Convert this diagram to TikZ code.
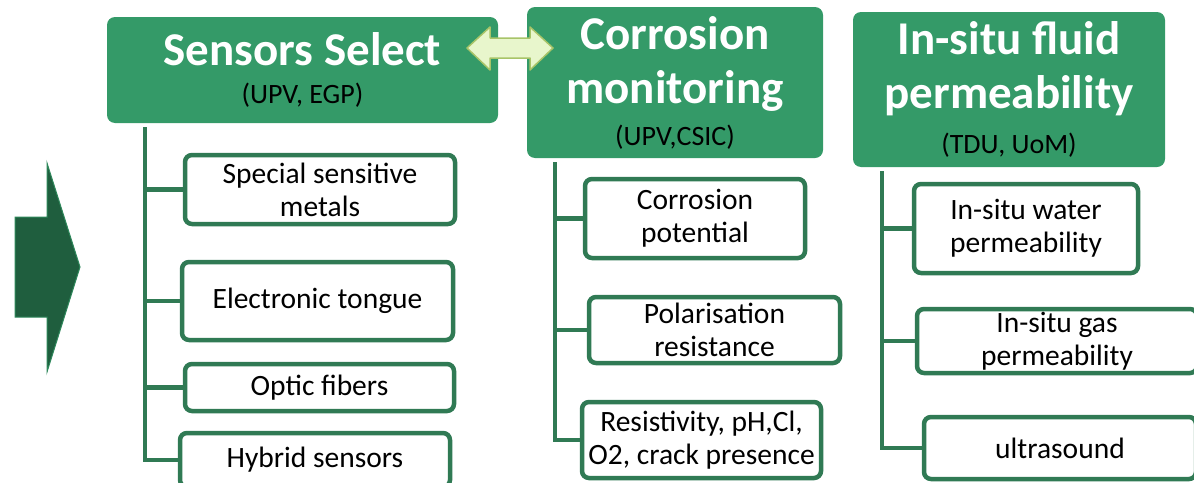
\documentclass[tikz,border=0pt]{standalone}
\usepackage{fontspec}
\setmainfont{Carlito}
\usetikzlibrary{backgrounds}
\definecolor{hdgreen}{RGB}{52,154,104}
\definecolor{rimgreen}{RGB}{48,122,84}
\definecolor{darkgreen}{RGB}{31,94,62}
\definecolor{paleleaf}{RGB}{232,246,204}
\definecolor{leafrim}{RGB}{168,196,104}
\tikzset{
  header/.style={rectangle,rounded corners=8pt,fill=hdgreen,align=center,
    inner sep=0pt,text=black,font=\fontsize{47}{54}\selectfont},
  leaf/.style={rectangle,rounded corners=7pt,draw=rimgreen,line width=4.5pt,
    fill=white,align=center,inner sep=0pt,
    font=\fontsize{29.5}{33}\selectfont},
  link/.style={draw=rimgreen,line width=4.5pt}
}
\newcommand{\hdtitle}[1]{{\bfseries\color{white}#1}}
\newcommand{\hdsub}[1]{{\fontsize{28}{30}\selectfont #1}}

\begin{document}
\begin{tikzpicture}[x=1pt,y=-1pt]
  \useasboundingbox (0,0) rectangle (1194,482);
  \clip (0,0) rectangle (1194,482);
  \node[header,minimum width=391pt,minimum height=106pt] (sel) at (302.5,70)
    {\hdtitle{Sensors Select}\\[-16pt]\hdsub{(UPV, EGP)}};
  \node[header,minimum width=296pt,minimum height=151pt] (cor) at (675,82.5)
    {\hdtitle{Corrosion}\\\hdtitle{monitoring}\\[-12pt]\hdsub{(UPV,CSIC)}};
  \node[header,minimum width=312pt,minimum height=155pt] (ins) at (1009,89.5)
    {\hdtitle{In-situ fluid}\\\hdtitle{permeability}\\[-9pt]\hdsub{(TDU, UoM)}};

  \node[leaf,minimum width=270pt,minimum height=69pt] (sel1) at (320,189.5)
    {Special sensitive\\metals};
  \node[leaf,minimum width=271pt,minimum height=78pt] (sel2) at (317.5,301)
    {Electronic tongue};
  \node[leaf,minimum width=269pt,minimum height=47pt] (sel3) at (319.5,387.5)
    {Optic fibers};
  \node[leaf,minimum width=270pt,minimum height=54pt] (sel4) at (315,460)
    {Hybrid sensors};

  \node[leaf,minimum width=220pt,minimum height=79pt] (cor1) at (695,218.5)
    {Corrosion\\potential};
  \node[leaf,minimum width=251pt,minimum height=66pt] (cor2) at (714.5,330)
    {Polarisation\\resistance};
  \node[leaf,minimum width=239pt,minimum height=76pt] (cor3) at (701.5,440)
    {Resistivity, pH,Cl,\\O2, crack presence};

  \node[leaf,minimum width=224pt,minimum height=89pt] (ins1) at (1026,228.5)
    {In-situ water\\permeability};
  \node[leaf,minimum width=280pt,minimum height=64pt] (ins2) at (1057,341)
    {In-situ gas\\permeability};
  \node[leaf,minimum width=272pt,minimum height=62pt] (ins3) at (1060,448)
    {ultrasound};

  \coordinate (selroot) at ([xshift=38pt,yshift=-4pt]sel.south west);
  \coordinate (corroot) at ([xshift=28pt,yshift=-4pt]cor.south west);
  \coordinate (insroot) at ([xshift=29pt,yshift=-4pt]ins.south west);
  \begin{scope}[on background layer]
    \foreach \k in {1,...,4}
      \draw[link] (selroot) |- (sel\k.west);
    \foreach \k in {1,...,3}
      \draw[link] (corroot) |- (cor\k.west);
    \foreach \k in {1,...,3}
      \draw[link] (insroot) |- (ins\k.west);
  \end{scope}

  \draw[fill=paleleaf,draw=leafrim,line width=1.5pt,line join=round]
    (467,48) -- (490,27) -- (490,38) -- (530,38) -- (530,27) -- (553,48)
    -- (530,70) -- (530,58) -- (490,58) -- (490,70) -- cycle;
  \draw[fill=darkgreen,draw=hdgreen!70!darkgreen,line width=1pt]
    (15,217) -- (47,217) -- (47,163) -- (80,267) -- (47,372) -- (47,317)
    -- (15,317) -- cycle;
\end{tikzpicture}
\end{document}
